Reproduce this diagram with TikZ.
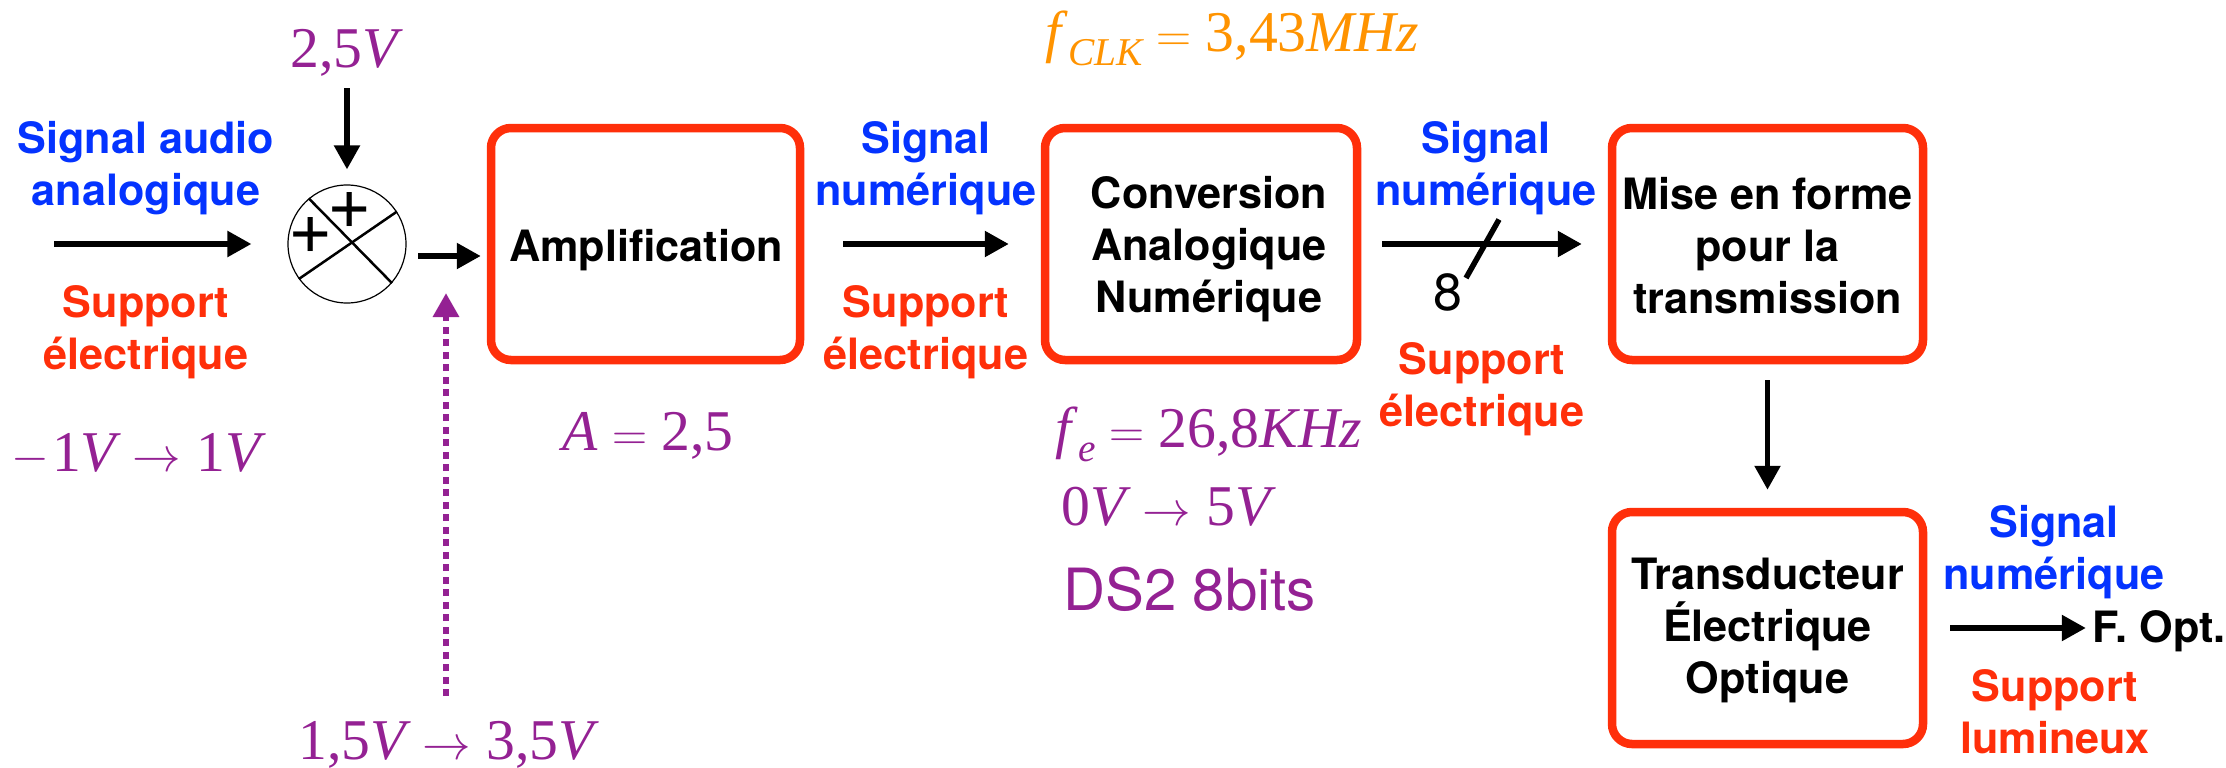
\documentclass[tikz,border=0pt]{standalone}
\usepackage{fontspec}
\setmainfont{TeX Gyre Heros}
\newfontfamily\timesfont{Liberation Serif}
\usetikzlibrary{arrows.meta}

\definecolor{bleu}{HTML}{0433FF}
\definecolor{rouge}{HTML}{FF2F0A}
\definecolor{prune}{HTML}{942193}
\definecolor{orange}{HTML}{FF9300}

\def\px{0.0125cm} % One pixel of the reference

\tikzset{
	bloc/.style={draw=rouge, rounded corners=20*\px, line width=8.5*\px, fill=white, minimum width=#1*\px, minimum height=232*\px},
	titre/.style={font=\bfseries\fontsize{15.35}{18.5}\selectfont, align=center, inner sep=0pt},
	signal/.style={titre, text=bleu},
	support/.style={titre, text=rouge},
	valeur/.style={font=\timesfont\fontsize{20.5}{24}\selectfont, text=prune, inner sep=0pt, anchor=base},
	fleche/.style={line width=5.4*\px, -{Triangle[length=24*\px, width=25*\px]}},
	pointille/.style={fleche, draw=prune, line width=6.5*\px, dash pattern=on 7*\px off 5.5*\px},
}

\newcommand{\indice}[1]{\raisebox{-5pt}{\fontsize{14}{14}\selectfont\itshape #1}}
\newcommand{\signe}[1]{{\fontsize{17.28}{20}\selectfont$#1$}}
\newcommand{\egal}{\hspace{5pt}\signe{=}\hspace{5pt}}
\newcommand{\vers}{\hspace{4pt}\signe{\rightarrow}\hspace{5.5pt}}

\begin{document}
\begin{tikzpicture}[x=\px, y=-\px]
	
	\useasboundingbox (0, 0) rectangle (2226, 768);
	
	% Blocks of the chain
	\node[bloc=309] (amp) at (645.5, 244) {};
	\node[bloc=312] (conv) at (1201, 244) {};
	\node[bloc=311] (mise) at (1767.5, 244) {};
	\node[bloc=311] (trans) at (1767.5, 628) {};
	
	% Texts of the blocks
	\node[titre] (ampText) at (646, 250) {Amplification};
	\node[titre] (convText) at (1209, 249) {Conversion\\Analogique\\Numérique};
	\node[titre] (miseText) at (1767.5, 246) {Mise en forme\\pour la\\transmission};
	\node[titre] (transText) at (1767.5, 630) {Transducteur\\Électrique\\Optique};
	\node[titre] (fibre) at (2159, 631) {F. Opt.};
	
	% Summing point
	\node[circle, draw, fill=white, line width=1.2*\px, minimum size=118*\px, inner sep=0pt] (sum) at (347, 244) {};
	\draw[line width=2.5*\px] (sum.130) -- (sum.-41);
	\draw[line width=2.5*\px] (sum.216) -- (sum.33);
	\node[font=\fontsize{27}{27}\selectfont, inner sep=0pt] (plusA) at (350, 210) {+};
	\node[font=\fontsize{27}{27}\selectfont, inner sep=0pt] (plusB) at (311, 235) {+};
	
	% Labels above and below the arrows
	\foreach \i/\x/\y/\t in {a/146/168/Signal audio\\analogique, b/926/168/Signal\\numérique, c/1486/168/Signal\\numérique, d/2054/552/Signal\\numérique} {
		\node[signal] (signal\i) at (\x, \y) {\t};
	}
	\foreach \i/\x/\y/\t in {a/146/332/Support\\électrique, b/926/332/Support\\électrique, c/1482/389/Support\\électrique, d/2055/712/Support\\lumineux} {
		\node[support] (support\i) at (\x, \y) {\t};
	}
	
	% Values
	\node[valeur] (offset) at (347, 67) {2,5\textit{V}};
	\node[valeur] (entree) at (139, 471.5) {\signe{-}\hspace{1pt}1\textit{V}\vers 1\textit{V}};
	\node[valeur] (mode) at (449, 759) {1,5\textit{V}\vers 3,5\textit{V}};
	\node[valeur] (gain) at (648, 450) {\textit{A}\egal 2,5};
	\node[valeur, text=orange, anchor=base west] (clk) at (1045, 51) {\textit{f}\indice{CLK}\egal 3,43\textit{MHz}};
	\node[valeur, anchor=base west] (fe) at (1055, 447) {\textit{f}\indice{e}\egal 26,8\textit{KHz}};
	\node[valeur, anchor=base west] (plage) at (1061, 525) {0\textit{V}\vers 5\textit{V}};
	\node[valeur, anchor=base west, font=\fontsize{20.7}{24}\selectfont] (ds) at (1063, 610) {DS2 8bits};
	\node[font=\fontsize{18.5}{20}\selectfont, inner sep=0pt] (bits) at (1448, 292) {8};
	
	% Free ends
	\coordinate (audio) at (54, 244);
	\coordinate (sortie) at (418, 256);
	\coordinate (source) at (446, 696);
	\coordinate (cible) at (446, 293);
	\coordinate (slashA) at (1499, 219.5);
	\coordinate (slashB) at (1466, 278);
	
	% Arrows
	\draw[fleche, shorten >=36*\px] (audio) -- (sum);
	\draw[fleche, shorten <=12*\px, shorten >=15*\px] (offset) -- (sum);
	\draw[fleche, shorten >=6*\px] (sortie) -- (sortie -| amp.west);
	\draw[pointille] (source) -- (cible);
	\draw[fleche, shorten <=39*\px, shorten >=32*\px] (amp) -- (conv);
	\draw[fleche, shorten <=21*\px, shorten >=26*\px] (conv) -- (mise);
	\draw[line width=5.5*\px] (slashA) -- (slashB);
	\draw[fleche, shorten <=16*\px, shorten >=18*\px] (mise) -- (trans);
	\draw[fleche, shorten <=23*\px, shorten >=6*\px] (trans) -- (trans -| fibre.west);
	
\end{tikzpicture}
\end{document}
